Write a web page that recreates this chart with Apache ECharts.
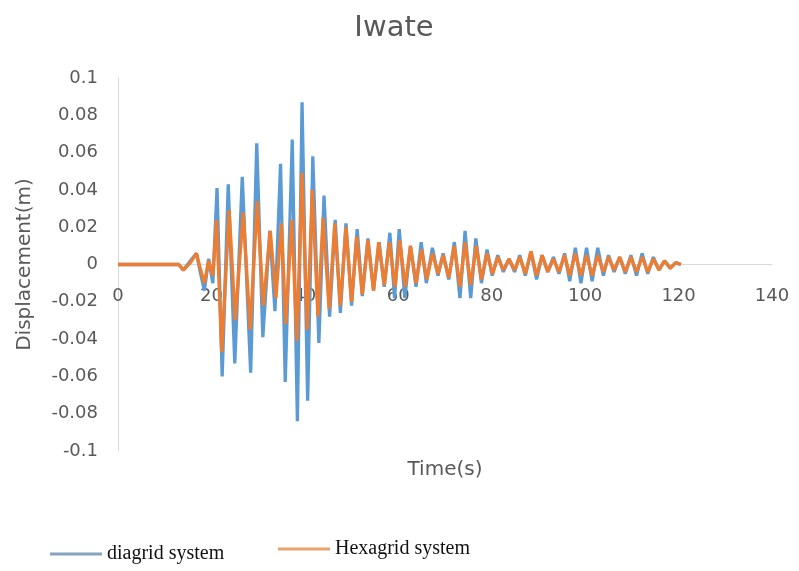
<!DOCTYPE html>
<html>
<head>
<meta charset="utf-8">
<script src="https://cdn.jsdelivr.net/npm/echarts@6/dist/echarts.min.js"></script>
<style>html,body{margin:0;padding:0;background:#fff}#c{width:799px;height:571px}</style>
</head>
<body>
<div id="c"></div>
<script>
const titleText = 'Iwate';
const xName = 'Time(s)';
const yName = 'Displacement(m)';
const seriesNames = ['diagrid system', 'Hexagrid system'];
const xTicks = [0, 20, 40, 60, 80, 100, 120, 140];
const yTicks = [-0.1, -0.08, -0.06, -0.04, -0.02, 0, 0.02, 0.04, 0.06, 0.08, 0.1];

// diagrid system: [time (s), displacement (m)] (extremes)
const diagrid = [
  [0,0],[13,0],[14,-0.003],[15.5,0.002],[16.8,0.006],[17.6,-0.004],[18.5,-0.014],[19.4,0.003],[20.3,-0.01],
  [21.2,0.041],[22.3,-0.060],[23.6,0.043],[25.0,-0.053],[26.6,0.047],[28.4,-0.058],[29.7,0.065],[31.0,-0.039],
  [32.5,0.018],[33.6,-0.025],[34.8,0.054],[35.8,-0.063],[37.3,0.067],[38.4,-0.084],[39.4,0.087],[40.6,-0.073],
  [41.7,0.058],[43.0,-0.042],[44.1,0.037],[45.3,-0.028],[46.5,0.024],[47.6,-0.026],[48.8,0.022],[50.0,-0.022],
  [51.2,0.019],[52.3,-0.017],[53.5,0.014],[54.7,-0.014],[55.9,0.012],[57.0,-0.012],[58.2,0.017],[59.2,-0.018],
  [60.2,0.019],[61.4,-0.018],[62.6,0.010],[63.8,-0.012],[64.9,0.012],[66.0,-0.010],[67.3,0.009],[68.5,-0.006],
  [69.6,0.006],[70.8,-0.008],[72.0,0.012],[73.2,-0.018],[74.3,0.018],[75.5,-0.018],[76.6,0.014],[77.8,-0.010],
  [79.0,0.008],[80.1,-0.006],[81.3,0.005],[82.5,-0.004],[83.7,0.003],[84.9,-0.004],[86.0,0.005],[87.2,-0.006],
  [88.4,0.007],[89.6,-0.008],[90.8,0.005],[92.0,-0.004],[93.2,0.004],[94.4,-0.005],[95.6,0.006],[96.7,-0.009],
  [97.9,0.009],[99.1,-0.010],[100.3,0.009],[101.5,-0.009],[102.7,0.009],[103.9,-0.006],[105.0,0.005],[106.2,-0.004],
  [107.4,0.004],[108.6,-0.005],[109.8,0.005],[111.0,-0.006],[112.2,0.006],[113.4,-0.005],[114.6,0.004],[115.8,-0.003],
  [117.0,0.002],[118.2,-0.002],[119.4,0.001],[120.5,0]
];

// Hexagrid system: [time (s), displacement (m)] (extremes)
const hexagrid = [
  [0,0],[13,0],[14,-0.003],[15.5,0.001],[16.8,0.006],[17.6,-0.002],[18.5,-0.010],[19.4,0.002],[20.3,-0.006],
  [21.1,0.024],[22.2,-0.047],[23.8,0.029],[25.1,-0.030],[26.8,0.028],[28.3,-0.035],[29.8,0.034],[31.1,-0.022],
  [32.6,0.018],[33.8,-0.018],[35.0,0.022],[35.9,-0.032],[37.2,0.024],[38.3,-0.041],[39.4,0.049],[40.5,-0.035],
  [41.6,0.040],[42.8,-0.028],[43.9,0.025],[45.2,-0.024],[46.4,0.022],[47.6,-0.022],[48.8,0.020],[50.0,-0.020],
  [51.1,0.015],[52.3,-0.016],[53.5,0.013],[54.7,-0.014],[55.8,0.012],[57.0,-0.011],[58.1,0.012],[59.3,-0.012],
  [60.3,0.013],[61.5,-0.012],[62.6,0.010],[63.8,-0.010],[65.0,0.008],[66.1,-0.008],[67.3,0.006],[68.5,-0.005],
  [69.6,0.005],[70.8,-0.007],[72.0,0.010],[73.2,-0.012],[74.3,0.012],[75.5,-0.011],[76.7,0.010],[77.8,-0.008],
  [79.0,0.006],[80.2,-0.005],[81.3,0.004],[82.5,-0.003],[83.7,0.003],[84.9,-0.003],[86.0,0.004],[87.2,-0.005],
  [88.4,0.007],[89.6,-0.006],[90.8,0.005],[92.0,-0.004],[93.2,0.003],[94.4,-0.004],[95.6,0.005],[96.7,-0.006],
  [97.9,0.006],[99.1,-0.006],[100.3,0.005],[101.5,-0.006],[102.7,0.005],[103.9,-0.004],[105.0,0.004],[106.2,-0.003],
  [107.4,0.004],[108.6,-0.004],[109.8,0.004],[111.0,-0.004],[112.2,0.004],[113.4,-0.004],[114.6,0.003],[115.8,-0.003],
  [117.0,0.002],[118.2,-0.002],[119.4,0.001],[120.5,0]
];

const colors = ['#5B9BD5', '#ED7D31'];
const legendColors = ['#86A3C0', '#E9A36C'];
const grayText = '#595959';
const sans = 'DejaVu Sans';
const chart = echarts.init(document.getElementById('c'), null, {renderer: 'canvas'});
chart.setOption({
  animation: false,
  backgroundColor: '#ffffff',
  title: {
    text: titleText, left: 389, top: 9, textAlign: 'center',
    textStyle: {fontFamily: sans, fontSize: 29, fontWeight: 'normal', color: grayText}
  },
  legend: [
    {
      data: [{name: seriesNames[0], itemStyle: {color: legendColors[0]}}],
      left: 50, top: 544, itemWidth: 52, itemHeight: 3, itemGap: 8,
      icon: 'rect', padding: 0,
      textStyle: {fontFamily: 'Liberation Serif', fontSize: 20, color: '#111'}
    },
    {
      data: [{name: seriesNames[1], itemStyle: {color: legendColors[1]}}],
      left: 278, top: 539, itemWidth: 52, itemHeight: 3, itemGap: 8,
      icon: 'rect', padding: 0,
      textStyle: {fontFamily: 'Liberation Serif', fontSize: 20, color: '#111'}
    }
  ],
  grid: {left: 118, right: 27, top: 78, bottom: 120, containLabel: false, outerBoundsMode: 'none'},
  xAxis: {
    type: 'value', min: xTicks[0], max: xTicks[xTicks.length - 1], interval: 20,
    name: xName, nameLocation: 'middle', nameGap: 9,
    nameTextStyle: {fontFamily: sans, fontSize: 20, color: grayText},
    axisLine: {onZero: true, lineStyle: {color: '#d9d9d9', width: 1}},
    axisTick: {show: false},
    splitLine: {show: false},
    axisLabel: {fontFamily: sans, fontSize: 18, color: grayText, margin: -164}
  },
  yAxis: {
    type: 'value', min: yTicks[0], max: yTicks[yTicks.length - 1], interval: 0.02,
    name: yName, nameLocation: 'middle', nameGap: 83, nameRotate: 90,
    nameTextStyle: {fontFamily: sans, fontSize: 20, color: grayText},
    axisLine: {show: true, lineStyle: {color: '#d9d9d9', width: 1}},
    axisTick: {show: false},
    splitLine: {show: false},
    axisLabel: {
      fontFamily: sans, fontSize: 18, color: grayText, margin: 20,
      formatter: v => String(Math.round(v * 100) / 100)
    }
  },
  series: [
    {
      name: seriesNames[0], type: 'line', data: diagrid, showSymbol: false, symbol: 'none',
      lineStyle: {color: colors[0], width: 3.3}, itemStyle: {color: colors[0]}, z: 2
    },
    {
      name: seriesNames[1], type: 'line', data: hexagrid, showSymbol: false, symbol: 'none',
      lineStyle: {color: colors[1], width: 3.3}, itemStyle: {color: colors[1]}, z: 3
    }
  ]
});
</script>
</body>
</html>
